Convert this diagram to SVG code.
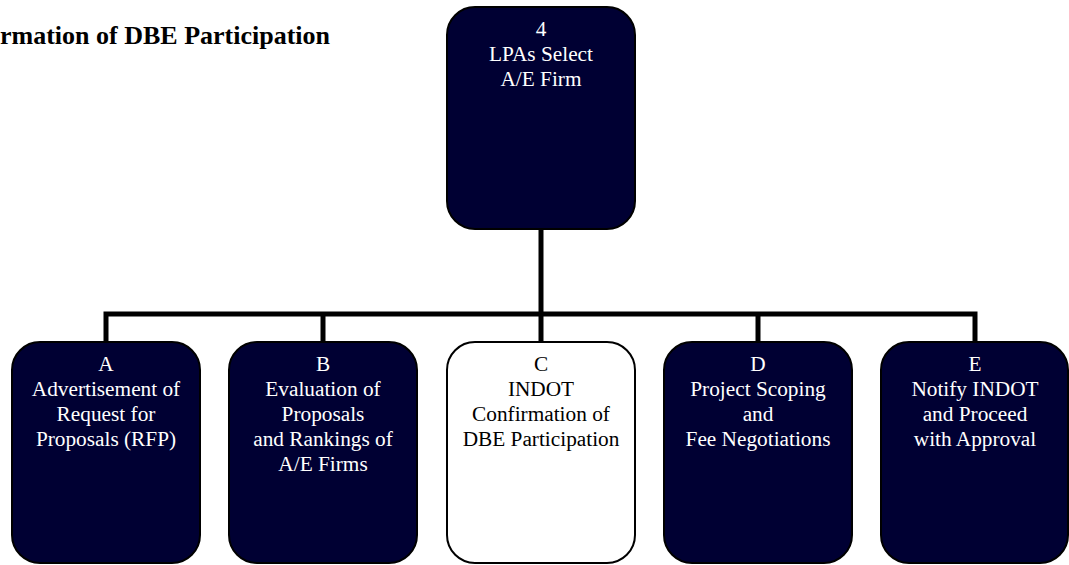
<svg xmlns="http://www.w3.org/2000/svg" width="1069" height="565" viewBox="0 0 1069 565">
<style>
.box{stroke:#000;stroke-width:2}
.dark{fill:#000033}
.light{fill:#fff}
text{font-family:'Liberation Serif','Times New Roman',Times,serif}
.t{font-size:21.3px;text-anchor:middle}
.tw{fill:#fff}
.tb{fill:#000}
.conn{fill:none;stroke:#000;stroke-width:5;stroke-linejoin:miter}
.title{font-size:26px;font-weight:bold;fill:#000}
</style>
<rect width="1069" height="565" fill="#fff"/>
<text class="title" x="0" y="43.5">rmation of DBE Participation</text>
<g id="connectors">
<path class="conn" d="M541,229 V314"/>
<path class="conn" d="M106,342 V314 H975 V342"/>
<path class="conn" d="M323,314 V342"/>
<path class="conn" d="M541,314 V342"/>
<path class="conn" d="M758,314 V342"/>
</g>
<g id="node4">
<rect class="box dark" x="447" y="7" width="188" height="222" rx="28"/>
<text class="t tw" x="541" y="36">4<tspan x="541" dy="25">LPAs Select</tspan><tspan x="541" dy="25">A/E Firm</tspan></text>
</g>
<g id="nodeA">
<rect class="box dark" x="12" y="342" width="188" height="221" rx="28"/>
<text class="t tw" x="106" y="370.5">A<tspan x="106" dy="25">Advertisement of</tspan><tspan x="106" dy="25">Request for</tspan><tspan x="106" dy="25">Proposals (RFP)</tspan></text>
</g>
<g id="nodeB">
<rect class="box dark" x="229" y="342" width="188" height="221" rx="28"/>
<text class="t tw" x="323" y="370.5">B<tspan x="323" dy="25">Evaluation of</tspan><tspan x="323" dy="25">Proposals</tspan><tspan x="323" dy="25">and Rankings of</tspan><tspan x="323" dy="25">A/E Firms</tspan></text>
</g>
<g id="nodeC">
<rect class="box light" x="447" y="342" width="188" height="221" rx="28"/>
<text class="t tb" x="541" y="370.5">C<tspan x="541" dy="25">INDOT</tspan><tspan x="541" dy="25">Confirmation of</tspan><tspan x="541" dy="25">DBE Participation</tspan></text>
</g>
<g id="nodeD">
<rect class="box dark" x="664" y="342" width="188" height="221" rx="28"/>
<text class="t tw" x="758" y="370.5">D<tspan x="758" dy="25">Project Scoping</tspan><tspan x="758" dy="25">and</tspan><tspan x="758" dy="25">Fee Negotiations</tspan></text>
</g>
<g id="nodeE">
<rect class="box dark" x="881" y="342" width="187" height="221" rx="28"/>
<text class="t tw" x="975" y="370.5">E<tspan x="975" dy="25">Notify INDOT</tspan><tspan x="975" dy="25">and Proceed</tspan><tspan x="975" dy="25">with Approval</tspan></text>
</g>
</svg>
